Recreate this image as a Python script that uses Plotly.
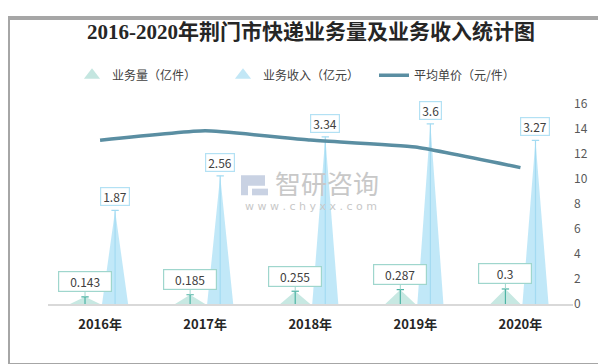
import plotly.graph_objects as go

years = ["2016年", "2017年", "2018年", "2019年", "2020年"]
volume = [0.143, 0.185, 0.255, 0.287, 0.3]        # 业务量（亿件）
revenue = [1.87, 2.56, 3.34, 3.6, 3.27]           # 业务收入（亿元）
price = [13.08, 13.84, 13.10, 12.54, 10.90]       # 平均单价（元/件）
right_ticks = [0, 2, 4, 6, 8, 10, 12, 14, 16]

W, H = 606, 364
idx = list(range(len(years)))

VOL_OFF, VOL_HW = -0.143, 0.143
REV_OFF, REV_HW = 0.143, 0.124
CAP = 0.035

VOL_FILL = "rgba(180,224,216,0.75)"
VOL_LINE = "#4db3a4"
VOL_BOX = "#9fd6cd"
REV_FILL = "rgba(178,226,246,0.8)"
REV_LINE = "#a3dbf2"
REV_BOX = "#b3e1f4"
LINE_C = "#5a8ea2"
FONT = "Noto Sans CJK SC"


def spikes(vals, off, hw):
    xs, ys = [], []
    for i, v in enumerate(vals):
        c = i + off
        xs += [c - hw, c, c + hw, None]
        ys += [0, v, 0, None]
    return xs, ys


def stems(vals, off, cap):
    xs, ys = [], []
    for i, v in enumerate(vals):
        c = i + off
        xs += [c, c, None, c - cap, c + cap, None]
        ys += [0, v, None, v, v, None]
    return xs, ys


fig = go.Figure()

# spikes
for vals, off, hw, fillc, linec in [
    (volume, VOL_OFF, VOL_HW, VOL_FILL, VOL_LINE),
    (revenue, REV_OFF, REV_HW, REV_FILL, REV_LINE),
]:
    sx, sy = spikes(vals, off, hw)
    fig.add_trace(go.Scatter(x=sx, y=sy, mode="lines", fill="toself",
                             fillcolor=fillc, line=dict(width=0, color=fillc),
                             showlegend=False, hoverinfo="skip", yaxis="y"))
    tx, ty = stems(vals, off, CAP)
    fig.add_trace(go.Scatter(x=tx, y=ty, mode="lines",
                             line=dict(width=1.2, color=linec),
                             showlegend=False, hoverinfo="skip", yaxis="y"))

# legend entries
fig.add_trace(go.Scatter(x=[None], y=[None], mode="markers", name="业务量（亿件）",
                         marker=dict(symbol="triangle-up", size=14, color="#c4e6e0")))
fig.add_trace(go.Scatter(x=[None], y=[None], mode="markers", name="业务收入（亿元）",
                         marker=dict(symbol="triangle-up", size=14, color="#c2e7f6")))

# price line
fig.add_trace(go.Scatter(x=idx, y=price, mode="lines", name="平均单价（元/件）",
                         line=dict(color=LINE_C, width=3.5, shape="spline", smoothing=0.4),
                         yaxis="y2"))

annotations = []
for i, v in enumerate(volume):
    annotations.append(dict(x=i + VOL_OFF, y=v, xref="x", yref="y", text=str(v),
                            showarrow=True, ax=0, ay=-15, arrowhead=0, arrowwidth=1,
                            arrowcolor=VOL_BOX, width=50, height=17, borderpad=1,
                            bordercolor=VOL_BOX, borderwidth=1.2, bgcolor="white",
                            font=dict(size=12, color="#404040", family=FONT)))
for i, v in enumerate(revenue):
    annotations.append(dict(x=i + REV_OFF, y=v, xref="x", yref="y", text=str(v),
                            showarrow=False, yanchor="bottom", yshift=4, borderpad=2,
                            height=13, bordercolor=REV_BOX, borderwidth=1.2, bgcolor="white",
                            font=dict(size=12, color="#404040", family=FONT)))

# watermark
annotations.append(dict(x=319 / W, y=1 - 172 / H, xref="paper", yref="paper",
                        text="智研咨询", showarrow=False, height=28,
                        font=dict(size=26, color="#c8c8c8", family=FONT)))
annotations.append(dict(x=303 / W, y=1 - 198 / H, xref="paper", yref="paper",
                        text="w w w . c h y x x . c o m", showarrow=False, height=13,
                        font=dict(size=11, color="#c8c8c8", family="DejaVu Sans")))

shapes = [
    dict(type="rect", xref="paper", yref="paper", x0=0, x1=1, y0=0, y1=1,
         line=dict(color="#a6a6a6", width=4), fillcolor="rgba(0,0,0,0)"),
    # watermark logo
    dict(type="path", xref="paper", yref="paper",
         path=(f"M {233/W},{1-165/H} L {257/W},{1-165/H} L {257/W},{1-176/H} "
               f"L {240/W},{1-176/H} L {240/W},{1-186/H} L {233/W},{1-186/H} Z"),
         fillcolor="#c9d2e3", line=dict(width=0)),
    dict(type="path", xref="paper", yref="paper",
         path=(f"M {244/W},{1-179/H} L {260/W},{1-179/H} L {260/W},{1-186/H} "
               f"L {244/W},{1-186/H} Z"),
         fillcolor="#c9d2e3", line=dict(width=0)),
]

fig.update_layout(
    width=W, height=H,
    margin=dict(l=0, r=0, t=0, b=0),
    paper_bgcolor="white", plot_bgcolor="white",
    font=dict(family=FONT, color="#404040", size=12),
    title=dict(text="<b>2016-2020年荆门市快递业务量及业务收入统计图</b>",
               x=0.5, xanchor="center", y=1 - 24 / H, yanchor="middle",
               font=dict(size=21, color="#262626",
                         family="Liberation Serif, Noto Sans CJK SC")),
    xaxis=dict(domain=[39.5 / W, 565 / W], range=[-0.5, 4.5],
               tickmode="array", tickvals=idx, ticktext=[f"<b>{y}</b>" for y in years],
               tickfont=dict(size=13, color="#262626", family=FONT),
               ticks="", ticklabelstandoff=8,
               showline=True, linecolor="#d9d9d9", linewidth=1.5,
               showgrid=False, zeroline=False, fixedrange=True),
    yaxis=dict(domain=[(H - 300) / H, (H - 90) / H], range=[0, 4], visible=False,
               fixedrange=True),
    yaxis2=dict(overlaying="y", side="right", range=[0, 16], tickvals=right_ticks,
                showgrid=False, zeroline=False, showline=False, ticks="",
                tickfont=dict(size=12, color="#595959", family=FONT), fixedrange=True),
    legend=dict(orientation="h", x=64 / W, xanchor="left", y=1 - 60 / H, yanchor="middle",
                font=dict(size=12, color="#404040", family=FONT),
                entrywidth=106, bgcolor="rgba(0,0,0,0)"),
    annotations=annotations,
    shapes=shapes,
)

fig.write_html("out.html")
